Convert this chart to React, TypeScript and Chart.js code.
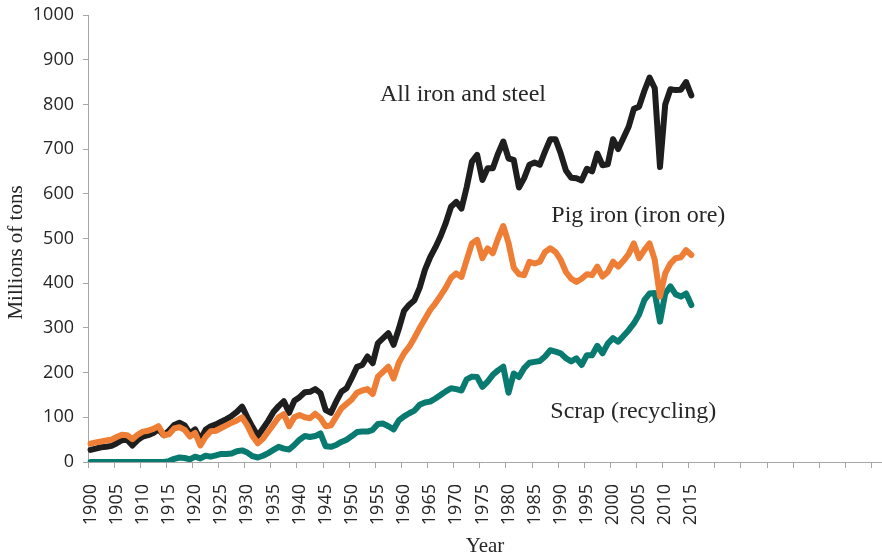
import React, { useEffect, useRef } from 'react';
import { Chart, registerables } from 'chart.js';

Chart.register(...registerables);

// Categories: one per year; the axis continues past the data to 2051
const years: number[] = Array.from({ length: 152 }, (_, i) => 1900 + i);
const tickYears: number[] = [
  1900, 1905, 1910, 1915, 1920, 1925, 1930, 1935, 1940, 1945, 1950, 1955,
  1960, 1965, 1970, 1975, 1980, 1985, 1990, 1995, 2000, 2005, 2010, 2015,
];

// Millions of tons, 1900-2015
const allIronSteel: number[] = [
  27, 30, 33, 34, 36, 42, 49, 50, 37, 49,
  57, 60, 65, 73, 60, 70, 83, 88, 82, 64,
  73, 50, 72, 80, 84, 90, 96, 103, 112, 124,
  100, 78, 58, 75, 92, 112, 125, 136, 110, 137,
  145, 156, 157, 163, 154, 116, 110, 135, 157, 165,
  188, 213, 217, 236, 221, 266, 277, 288, 262, 298,
  338, 352, 362, 390, 430, 458, 480, 505, 535, 571,
  582, 567, 615, 672, 687, 631, 657, 657, 690, 717,
  679, 676, 614, 635, 665, 670, 665, 695, 722, 722,
  690, 652, 636, 635, 630, 656, 650, 690, 664, 666,
  722, 700, 725, 750, 790, 795, 830, 860, 836, 660,
  800, 834, 832, 833, 850, 820,
];

const pigIron: number[] = [
  41, 44, 46, 48, 50, 56, 61, 60, 51, 61,
  68, 70, 74, 80, 60, 62, 75, 78, 72, 57,
  65, 37, 56, 69, 70, 76, 82, 88, 93, 100,
  82, 58, 42, 52, 68, 84, 100, 107, 80, 100,
  105, 100, 98, 108, 98, 80, 82, 101, 120, 130,
  140, 155, 160, 163, 152, 191, 202, 213, 187, 222,
  243, 258, 278, 300, 320, 340, 355, 372, 390, 412,
  422, 414, 452, 489, 497, 456, 478, 467, 500, 528,
  490, 435, 420, 418, 448, 444, 448, 470, 478, 470,
  452, 425, 410, 403, 410, 420, 418, 437, 415, 425,
  448, 437, 450, 465, 489, 456, 474, 489, 452, 370,
  422, 444, 456, 458, 474, 463,
];

const scrap: number[] = [
  0, 0, 0, 0, 0, 0, 0, 0, 0, 0,
  0, 0, 0, 0, 0, 2, 7, 10, 9, 6,
  12, 8, 14, 12, 15, 18, 18, 19, 24, 26,
  21, 13, 10, 14, 20, 27, 34, 30, 28, 38,
  50, 58, 56, 58, 64, 35, 34, 38, 45, 50,
  58, 67, 68, 68, 72, 85, 86, 80, 73, 93,
  102, 109, 115, 128, 133, 135, 142, 150, 158, 165,
  163, 160, 185, 191, 190, 168, 180, 195, 205, 213,
  155, 198, 190, 210, 222, 224, 226, 236, 250, 247,
  243, 232, 225, 232, 217, 239, 239, 260, 243, 265,
  277, 269, 282, 295, 310, 330, 362, 377, 378, 314,
  377, 393, 375, 370, 377, 351,
];

// Series labels written on the plot, anchored in data units (year, value of baseline)
const seriesLabels: string[] = ['All iron and steel', 'Pig iron (iron ore)', 'Scrap (recycling)'];
const seriesLabelYears: number[] = [1955.4, 1988.2, 1988.0];
const seriesLabelValues: number[] = [808, 536, 98];

const TEXT_COLOR = '#262626';
const AXIS_COLOR = '#A6A6A6';
const SERIF = '"Liberation Serif", "Times New Roman", serif';
const SANS = '"Open Sans", "Liberation Sans", sans-serif';

const labelPlugin = {
  id: 'seriesLabels',
  afterDatasetsDraw(chart: any) {
    const { ctx, chartArea } = chart;
    const x = chart.scales.x;
    const y = chart.scales.y;
    ctx.save();
    ctx.fillStyle = TEXT_COLOR;
    ctx.font = `24px ${SERIF}`;
    ctx.textAlign = 'left';
    ctx.textBaseline = 'alphabetic';
    seriesLabels.forEach((t, i) => {
      ctx.fillText(
        t,
        x.getPixelForValue(seriesLabelYears[i] - years[0]),
        y.getPixelForValue(seriesLabelValues[i])
      );
    });
    // y axis title
    ctx.translate(22, (chartArea.top + chartArea.bottom) / 2 + 14);
    ctx.rotate(-Math.PI / 2);
    ctx.font = `21px ${SERIF}`;
    ctx.textAlign = 'center';
    ctx.textBaseline = 'alphabetic';
    ctx.fillText('Millions of tons', 0, 0);
    ctx.restore();
  },
};

export default function App() {
  const canvasRef = useRef<HTMLCanvasElement | null>(null);

  useEffect(() => {
    if (!canvasRef.current) return;
    const pad = (arr: number[]) => years.map((_, i) => (i < arr.length ? arr[i] : null));
    const common = {
      borderWidth: 6,
      pointRadius: 0,
      pointHoverRadius: 0,
      tension: 0,
      fill: false,
      borderCapStyle: 'round' as const,
      borderJoinStyle: 'round' as const,
      spanGaps: false,
    };
    const chart = new Chart(canvasRef.current, {
      type: 'line',
      data: {
        labels: years.map(String),
        datasets: [
          { ...common, label: 'Scrap (recycling)', data: pad(scrap), borderColor: '#087A70', order: 2 },
          { ...common, label: 'All iron and steel', data: pad(allIronSteel), borderColor: '#1E1E1E', order: 1 },
          { ...common, label: 'Pig iron (iron ore)', data: pad(pigIron), borderColor: '#EE7E35', order: 0 },
        ],
      },
      options: {
        animation: false,
        responsive: false,
        maintainAspectRatio: false,
        devicePixelRatio: 1,
        layout: { padding: { top: 15, right: 0, left: 0, bottom: 0 } },
        plugins: {
          legend: { display: false },
          tooltip: { enabled: false },
          title: { display: false },
        },
        scales: {
          x: {
            type: 'category',
            offset: true,
            grid: {
              offset: true,
              drawOnChartArea: false,
              drawTicks: true,
              tickLength: 6,
              color: (ctx: any) =>
                typeof ctx.index === 'number' && ctx.index % 5 === 0 && ctx.index <= 150
                  ? AXIS_COLOR
                  : 'rgba(0,0,0,0)',
            },
            border: { display: true, color: AXIS_COLOR, width: 1 },
            ticks: {
              autoSkip: false,
              maxRotation: 90,
              minRotation: 90,
              padding: 16,
              color: TEXT_COLOR,
              font: { family: SANS, size: 18 },
              callback: (_v: any, index: number) =>
                tickYears.includes(years[index]) ? String(years[index]) : '',
            },
            title: {
              display: true,
              text: 'Year',
              color: TEXT_COLOR,
              font: { family: SERIF, size: 21, lineHeight: 1.1 },
              padding: { top: 0, bottom: 0 },
            },
            afterFit: (scale: any) => {
              scale.height = 96;
              scale.paddingLeft = 0;
              scale.paddingRight = 0;
            },
          },
          y: {
            type: 'linear',
            min: 0,
            max: 1000,
            grid: {
              drawOnChartArea: false,
              drawTicks: true,
              tickLength: 5,
              color: AXIS_COLOR,
            },
            border: { display: true, color: AXIS_COLOR, width: 1 },
            ticks: {
              stepSize: 100,
              padding: 9,
              color: TEXT_COLOR,
              font: { family: SANS, size: 18 },
              callback: (v: any) => String(v),
            },
            afterFit: (scale: any) => {
              scale.width = 88;
              scale.paddingTop = 0;
              scale.paddingBottom = 0;
            },
          },
        },
      },
      plugins: [labelPlugin],
    });
    return () => chart.destroy();
  }, []);

  return (
    <div style={{ position: 'fixed', left: 0, top: 0, width: 882, height: 558, background: '#fff' }}>
      <canvas ref={canvasRef} width={882} height={558} style={{ width: 882, height: 558, display: 'block' }} />
    </div>
  );
}
